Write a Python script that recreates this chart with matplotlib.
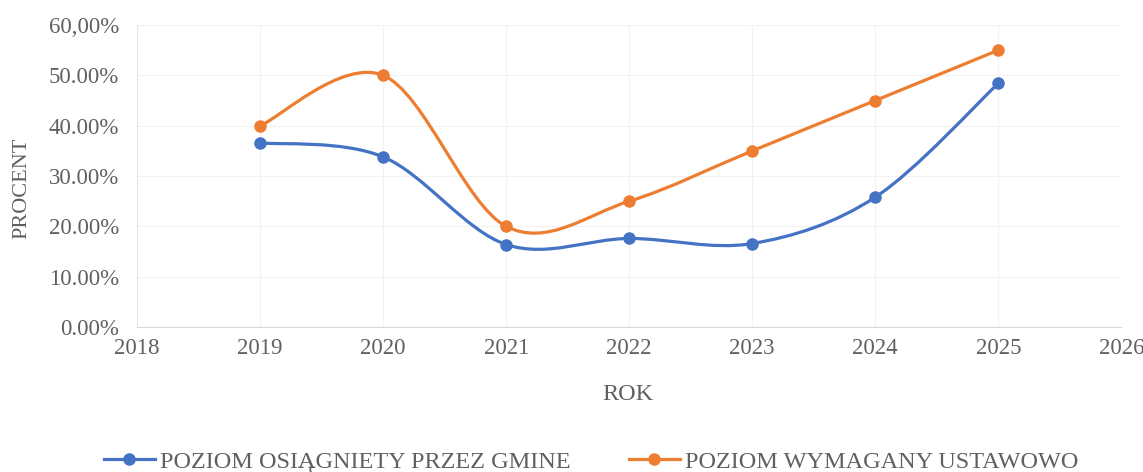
import matplotlib
matplotlib.use("Agg")
import matplotlib.pyplot as plt
from matplotlib.path import Path
from matplotlib.patches import PathPatch
from matplotlib.lines import Line2D

years = [2019, 2020, 2021, 2022, 2023, 2024, 2025]
achieved = [0.366, 0.338, 0.164, 0.176, 0.166, 0.258, 0.484]
required = [0.40, 0.50, 0.20, 0.25, 0.35, 0.45, 0.55]
series_names = ["POZIOM OSIĄGNIETY PRZEZ GMINE", "POZIOM WYMAGANY USTAWOWO"]
x_ticks = [2018, 2019, 2020, 2021, 2022, 2023, 2024, 2025, 2026]
y_ticks = [0.0, 0.1, 0.2, 0.3, 0.4, 0.5, 0.6]
y_labels = ["0.00%", "10.00%", "20.00%", "30.00%", "40.00%", "50.00%", "60,00%"]
colors = ["#4472C4", "#ED7D31"]

plt.rcParams['font.family'] = ['Liberation Serif', 'DejaVu Serif']
text_col = "#606060"

fig = plt.figure(figsize=(11.43, 4.72), dpi=100)
ax = fig.add_axes([0.120, 0.307, 0.861, 0.640])


def smooth_path(xs, ys):
    pts = list(zip(xs, ys))
    verts = [pts[0]]
    codes = [Path.MOVETO]
    n = len(pts)
    for i in range(n - 1):
        p0 = pts[i - 1] if i > 0 else pts[i]
        p1 = pts[i]
        p2 = pts[i + 1]
        p3 = pts[i + 2] if i + 2 < n else pts[i + 1]
        c1 = (p1[0] + (p2[0] - p0[0]) / 6, p1[1] + (p2[1] - p0[1]) / 6)
        c2 = (p2[0] - (p3[0] - p1[0]) / 6, p2[1] - (p3[1] - p1[1]) / 6)
        verts += [c1, c2, p2]
        codes += [Path.CURVE4] * 3
    return Path(verts, codes)


handles = []
for vals, col, name in zip([achieved, required], colors, series_names):
    patch = PathPatch(smooth_path(years, vals), facecolor='none', edgecolor=col,
                      lw=2.3, zorder=3, capstyle='round')
    ax.add_patch(patch)
    ax.plot(years, vals, 'o', color=col, ms=8, zorder=4, linestyle='none')
    handles.append(Line2D([], [], color=col, lw=2.3, marker='o', ms=8, label=name))

ax.set_xlim(2018, 2026)
ax.set_ylim(0, 0.6)
ax.set_xticks(x_ticks)
ax.set_xticklabels([str(t) for t in x_ticks])
ax.set_yticks(y_ticks)
ax.set_yticklabels(y_labels)
ax.tick_params(axis='both', length=0, labelsize=16.5, colors=text_col)
ax.tick_params(axis='x', pad=8)
ax.tick_params(axis='y', pad=13)
ax.grid(True, color="#F2F2F2", lw=0.8)
ax.set_axisbelow(True)
for s in ['top', 'right']:
    ax.spines[s].set_visible(False)
ax.spines['left'].set_color("#E6E6E6")
ax.spines['bottom'].set_color("#D9D9D9")

ax.set_xlabel("ROK", fontsize=17.5, color=text_col, va='center')
ax.xaxis.set_label_coords(0.499, -0.222)
ax.set_ylabel("PROCENT", fontsize=16, color=text_col, va='center')
ax.yaxis.set_label_coords(-0.117, 0.46)

fig.legend(handles=handles, loc='center', bbox_to_anchor=(0.517, 0.022), ncol=2,
           frameon=False, fontsize=17.5, labelcolor=text_col, handlelength=2.1,
           handletextpad=0.2, columnspacing=2.4, borderpad=0.2)

fig.savefig("out.png", dpi=100)
